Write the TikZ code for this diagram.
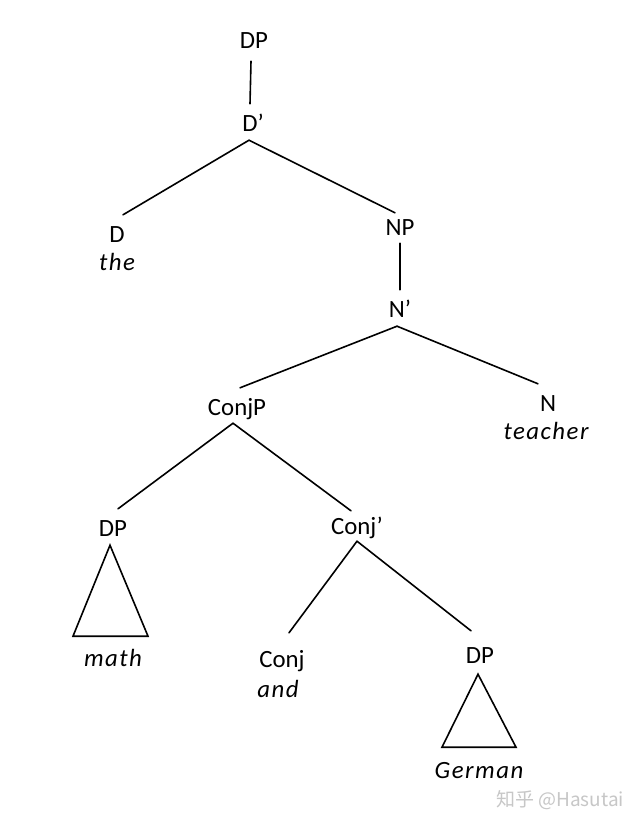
\documentclass[tikz,border=0pt]{standalone}
\usepackage{fontspec}
\setmainfont{Carlito}
\newfontfamily\itfont{Carlito}[LetterSpace=6]
\newfontfamily\cjk{Noto Sans CJK SC}
\begin{document}
\begin{tikzpicture}[x=1pt,y=-1pt,
  lab/.style={font=\fontsize{24.8}{26}\selectfont, text height=16pt, text depth=0pt,
    inner xsep=0pt, inner ysep=11pt, anchor=base},
  leaf/.style={font=\itfont\itshape\fontsize{24.8}{26}\selectfont, inner sep=0pt, anchor=base},
  edge/.style={line width=1.6pt, line cap=round},
  wm/.style={font=\cjk\fontsize{19}{21}\selectfont, text=black!22, inner sep=0pt}]
\useasboundingbox (0,0) rectangle (643,827);
\fill[white] (0,0) rectangle (643,827);
% labels
\node[lab] (DPtop) at (254,48) {DP};
\node[lab] (Dbar) at (253,131) {D’};
\node[lab] (D) at (117,242) {D};
\node[leaf] (the) at (117,270) {the};
\node[lab] (NP) at (400,235) {NP};
\node[lab] (Nbar) at (400,317) {N’};
\node[lab] (ConjP) at (237,415) {ConjP};
\node[lab] (N) at (548,411) {N};
\node[leaf] (teacher) at (546,439) {teacher};
\node[lab] (DPa) at (113,536) {DP};
\node[leaf] (math) at (113,666) {math};
\node[lab] (Conjbar) at (357,534) {Conj’};
\node[lab] (Conj) at (282,667) {Conj};
\node[leaf] (and) at (278,697) {and};
\node[lab] (DPb) at (480,663) {DP};
\node[leaf] (German) at (479,778) {German};
% edges
\draw[edge] ([xshift=-3pt,yshift=-2pt]DPtop.south) -- ([xshift=-3pt]Dbar.north);
\draw[edge] ([xshift=-4pt,yshift=2pt]Dbar.south) -- ([xshift=6pt]D.north);
\draw[edge] ([xshift=-4pt,yshift=2pt]Dbar.south) -- ([xshift=-5pt,yshift=-5pt]NP.north);
\draw[edge] ([yshift=3pt]NP.south) -- (Nbar.north);
\draw[edge] ([xshift=-3pt,yshift=2pt]Nbar.south) -- ([xshift=3pt]ConjP.north);
\draw[edge] ([xshift=-3pt,yshift=2pt]Nbar.south) -- ([xshift=-10pt]N.north);
\draw[edge] ([xshift=-4pt,yshift=3pt]ConjP.south) -- ([xshift=5pt]DPa.north);
\draw[edge] ([xshift=-4pt,yshift=3pt]ConjP.south) -- ([xshift=-6pt,yshift=-4pt]Conjbar.north);
\draw[edge] ([yshift=4pt]Conjbar.south) -- ([xshift=7pt,yshift=7pt]Conj.north);
\draw[edge] ([yshift=4pt]Conjbar.south) -- ([xshift=-9pt,yshift=5pt]DPb.north);
% triangles
\draw[edge, line join=miter] ([xshift=-3pt,yshift=2pt]DPa.south) -- ++(-37,91) -- ++(75,0) -- cycle;
\draw[edge, line join=miter] ([xshift=-2pt]DPb.south) -- ++(-36,73) -- ++(74,0) -- cycle;
% watermark
\node[wm] (mark) at (560,800) {知乎 @Hasutai};
\end{tikzpicture}
\end{document}
